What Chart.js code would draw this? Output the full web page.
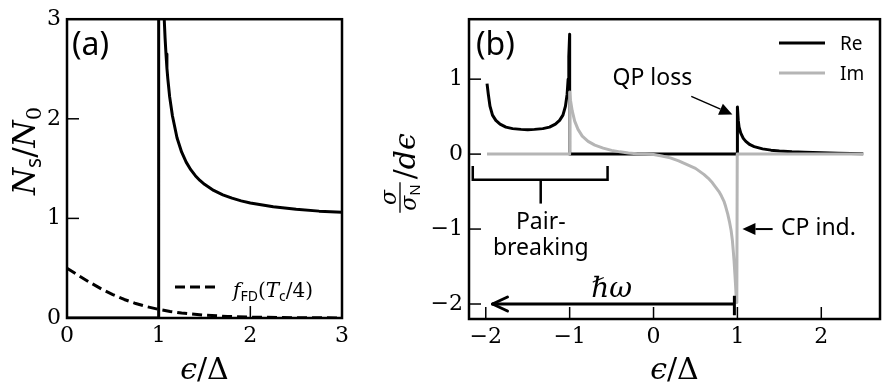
<!DOCTYPE html>
<html>
<head>
<meta charset="utf-8">
<script src="https://cdn.jsdelivr.net/npm/chart.js@4.4.1/dist/chart.umd.min.js"></script>
<style>
  html, body { margin: 0; padding: 0; background: #fff; }
  #wrap { position: relative; width: 882px; height: 385px; }
  canvas { position: absolute; top: 0; }
  #panelA { left: 0; }
  #panelB { left: 360px; }
</style>
</head>
<body>
<div id="wrap">
  <canvas id="panelA" width="360" height="385"></canvas>
  <canvas id="panelB" width="522" height="385"></canvas>
</div>
<script>
// (a) superconducting density of states and Fermi function at Tc/4
const epsDos = [0, 1, 1, 1.005, 1.02, 1.04, 1.0607, 1.07, 1.08, 1.09, 1.1, 1.12, 1.15, 1.2, 1.25, 1.3, 1.35, 1.4, 1.45, 1.5, 1.6, 1.7, 1.8, 1.9, 2.0, 2.25, 2.5, 2.75, 3.0];
const dos = [0, 0, 12, 10.0, 5.07, 3.64, 3.0, 2.81, 2.65, 2.51, 2.40, 2.22, 2.03, 1.81, 1.667, 1.565, 1.489, 1.429, 1.381, 1.342, 1.281, 1.237, 1.203, 1.176, 1.155, 1.116, 1.091, 1.073, 1.061];
const epsFermi = [0, 0.125, 0.25, 0.375, 0.5, 0.625, 0.75, 0.875, 1.0, 1.125, 1.25, 1.5, 1.75, 2.0, 2.5, 3.0];
const fermi = [0.5, 0.427, 0.357, 0.292, 0.235, 0.186, 0.145, 0.113, 0.086, 0.066, 0.05, 0.028, 0.016, 0.009, 0.003, 0.001];

// (b) conductivity integrand, real and imaginary parts
const epsRe = [-1.985, -1.97, -1.95, -1.92, -1.88, -1.83, -1.76, -1.68, -1.58, -1.5, -1.42, -1.32, -1.24, -1.17, -1.12, -1.08, -1.05, -1.03, -1.018, -1.01, -1.0, -1.0,
  1.0, 1.0, 1.01, 1.02, 1.04, 1.07, 1.1, 1.15, 1.2, 1.3, 1.4, 1.5, 1.65, 1.8, 2.0, 2.2, 2.5];
const re = [0.94, 0.80, 0.64, 0.52, 0.45, 0.40, 0.36, 0.34, 0.33, 0.325, 0.33, 0.34, 0.36, 0.40, 0.45, 0.52, 0.64, 0.80, 1.0, 1.3, 1.6, 0,
  0, 0.63, 0.45, 0.36, 0.28, 0.21, 0.17, 0.125, 0.10, 0.07, 0.053, 0.043, 0.032, 0.025, 0.017, 0.011, 0.005];
const epsIm = [-1.985, -1.0, -1.0, -0.99, -0.97, -0.94, -0.9, -0.85, -0.78, -0.7, -0.6, -0.5, -0.4, -0.3, -0.2, -0.1, 0, 0.1, 0.2, 0.3, 0.4, 0.5, 0.6, 0.65, 0.7,
  0.74, 0.78, 0.81, 0.84, 0.86, 0.885, 0.905, 0.925, 0.94, 0.95, 0.96, 0.97, 0.978, 0.985, 0.993, 0.998, 2.5];
const im = [0, 0, 0.83, 0.72, 0.58, 0.44, 0.33, 0.24, 0.17, 0.12, 0.08, 0.05, 0.03, 0.015, 0.006, 0, -0.005, -0.025, -0.05, -0.09, -0.14, -0.19, -0.27, -0.32, -0.38,
  -0.44, -0.5, -0.56, -0.63, -0.7, -0.8, -0.9, -1.02, -1.15, -1.28, -1.42, -1.6, -1.75, -1.9, -1.98, 0, 0];

const ticksAx = [0, 1, 2, 3];
const ticksAy = [0, 1, 2, 3];
const ticksBx = [-2, -1, 0, 1, 2];
const ticksBy = [-2, -1, 0, 1];

const SERIF = '"DejaVu Serif", serif';
const SANS = '"Noto Sans", sans-serif';
const GRAY = '#b5b5b5';

const fmt = v => (v < 0 ? '\u2212' + Math.abs(v) : String(v));

function series(xs, ys, color, dash, order) {
  return {
    data: xs.map((x, i) => ({ x, y: ys[i] })),
    borderColor: color,
    borderWidth: 3,
    borderDash: dash || [],
    borderJoinStyle: 'round',
    pointRadius: 0,
    tension: 0,
    fill: false,
    order
  };
}

function axis(min, max, ticks, fitSize, horizontal) {
  return {
    type: 'linear',
    min, max,
    afterBuildTicks: s => { s.ticks = ticks.map(v => ({ value: v })); },
    afterFit: s => { if (horizontal) s.height = fitSize; else s.width = fitSize; },
    grid: { display: false, drawTicks: false },
    border: { display: false },
    ticks: {
      color: '#000',
      font: { family: SERIF, size: 22 },
      padding: horizontal ? 5 : 6,
      maxRotation: 0,
      autoSkip: false,
      callback: v => fmt(v)
    }
  };
}

// draw a run of differently styled pieces of text one after another
function rich(ctx, x, y, runs, align) {
  let w = 0;
  runs.forEach(r => { ctx.font = r[1]; w += ctx.measureText(r[0]).width; });
  let cx = align === 'center' ? x - w / 2 : (align === 'right' ? x - w : x);
  ctx.textAlign = 'left';
  ctx.textBaseline = 'alphabetic';
  runs.forEach(r => {
    ctx.font = r[1];
    ctx.fillText(r[0], cx, y + (r[2] || 0));
    cx += ctx.measureText(r[0]).width;
  });
  return w;
}

function seg(ctx, x1, y1, x2, y2) {
  ctx.beginPath(); ctx.moveTo(x1, y1); ctx.lineTo(x2, y2); ctx.stroke();
}

function frameAndTicks(chart, xt, yt) {
  const { ctx, chartArea: ca, scales: { x, y } } = chart;
  ctx.strokeStyle = '#000';
  ctx.lineWidth = 1.5;
  xt.forEach(v => { const px = x.getPixelForValue(v); seg(ctx, px, ca.bottom, px, ca.bottom - 12); });
  yt.forEach(v => { const py = y.getPixelForValue(v); seg(ctx, ca.left, py, ca.left + 12, py); });
  ctx.lineWidth = 2.5;
  ctx.strokeRect(ca.left, ca.top, ca.right - ca.left, ca.bottom - ca.top);
}

function filledArrow(ctx, x1, y1, x2, y2, lw) {
  const a = Math.atan2(y2 - y1, x2 - x1);
  const len = 13, half = 6;
  const bx = x2 - len * Math.cos(a), by = y2 - len * Math.sin(a);
  ctx.lineWidth = lw;
  seg(ctx, x1, y1, bx, by);
  ctx.beginPath();
  ctx.moveTo(x2, y2);
  ctx.lineTo(bx - half * Math.sin(a), by + half * Math.cos(a));
  ctx.lineTo(bx + half * Math.sin(a), by - half * Math.cos(a));
  ctx.closePath();
  ctx.fill();
}

function epsOverDelta(ctx, cx) {
  rich(ctx, cx, 379, [
    ['\u03f5', 'italic 30px ' + SERIF],
    ['/', '30px ' + SERIF],
    ['\u0394', '30px ' + SERIF]
  ], 'center');
}

const decorA = {
  id: 'decorA',
  afterDraw(chart) {
    const { ctx, chartArea: ca } = chart;
    ctx.save();
    frameAndTicks(chart, ticksAx, ticksAy);
    ctx.fillStyle = '#000';

    // panel tag
    ctx.font = '32px ' + SANS;
    ctx.fillText('(a)', 72, 55);

    // legend entry for the dashed curve
    ctx.setLineDash([10, 5]);
    ctx.lineWidth = 3;
    seg(ctx, 175, 287, 219, 287);
    ctx.setLineDash([]);
    rich(ctx, 233, 297, [
      ['f', 'italic 20px ' + SERIF],
      ['FD', '14px ' + SANS, 4],
      ['(', '20px ' + SERIF],
      ['T', 'italic 20px ' + SERIF],
      ['c', '14px ' + SANS, 4],
      ['/4)', '20px ' + SERIF]
    ]);

    // axis labels
    epsOverDelta(ctx, (ca.left + ca.right) / 2);
    ctx.save();
    ctx.translate(35, 151);
    ctx.rotate(-Math.PI / 2);
    rich(ctx, 0, 0, [
      ['N', 'italic 31px ' + SERIF],
      ['s', '21px ' + SANS, 6],
      ['/', '31px ' + SERIF],
      ['N', 'italic 31px ' + SERIF],
      ['0', '21px ' + SERIF, 6]
    ], 'center');
    ctx.restore();
    ctx.restore();
  }
};

const decorB = {
  id: 'decorB',
  afterDraw(chart) {
    const { ctx, chartArea: ca, scales: { x, y } } = chart;
    ctx.save();
    frameAndTicks(chart, ticksBx, ticksBy);
    ctx.fillStyle = '#000';
    ctx.strokeStyle = '#000';

    ctx.font = '32px ' + SANS;
    ctx.fillText('(b)', 116, 55);

    // legend
    ctx.lineWidth = 3;
    seg(ctx, 419, 43, 465, 43);
    ctx.strokeStyle = GRAY;
    seg(ctx, 419, 73, 465, 73);
    ctx.strokeStyle = '#000';
    ctx.font = '19px ' + SANS;
    ctx.fillText('Re', 480, 50);
    ctx.fillText('Im', 480, 80);

    // pair-breaking bracket
    const bl = x.getPixelForValue(-2.155), br = x.getPixelForValue(-0.548);
    const by = y.getPixelForValue(-0.343), bt = y.getPixelForValue(-0.158);
    const bm = x.getPixelForValue(-1.345), bs = y.getPixelForValue(-0.66);
    ctx.lineWidth = 2.5;
    ctx.lineJoin = 'miter';
    ctx.beginPath();
    ctx.moveTo(bl, bt); ctx.lineTo(bl, by); ctx.lineTo(br, by); ctx.lineTo(br, bt);
    ctx.stroke();
    seg(ctx, bm, by, bm, bs);
    ctx.font = '23px ' + SANS;
    ctx.textAlign = 'center';
    ctx.fillText('Pair-', bm, y.getPixelForValue(-1.0));
    ctx.fillText('breaking', bm, y.getPixelForValue(-1.34));
    ctx.textAlign = 'left';

    // QP loss
    ctx.font = '23px ' + SANS;
    ctx.fillText('QP loss', x.getPixelForValue(-0.49), y.getPixelForValue(0.92));
    filledArrow(ctx, x.getPixelForValue(0.45), y.getPixelForValue(0.77),
      x.getPixelForValue(0.94), y.getPixelForValue(0.53), 1.5);

    // CP induced
    ctx.fillText('CP ind.', x.getPixelForValue(1.52), y.getPixelForValue(-1.08));
    filledArrow(ctx, x.getPixelForValue(1.42), y.getPixelForValue(-1.0),
      x.getPixelForValue(1.06), y.getPixelForValue(-1.0), 2);

    // photon energy arrow
    const hy = y.getPixelForValue(-2.0);
    const hr = x.getPixelForValue(0.964), hl = x.getPixelForValue(-1.92);
    ctx.lineWidth = 3;
    seg(ctx, hr, hy, hl, hy);
    seg(ctx, hr, y.getPixelForValue(-1.89), hr, y.getPixelForValue(-2.15));
    ctx.lineCap = 'round';
    seg(ctx, hl, hy, hl + 15, hy - 7);
    seg(ctx, hl, hy, hl + 15, hy + 7);
    ctx.lineCap = 'butt';
    rich(ctx, x.getPixelForValue(-0.5), y.getPixelForValue(-1.91), [
      ['\u210f', 'italic 28px ' + SERIF],
      ['\u03c9', 'italic 28px ' + SERIF]
    ], 'center');

    // axis labels
    epsOverDelta(ctx, (ca.left + ca.right) / 2);

    ctx.save();
    ctx.translate(55, 173);
    ctx.rotate(-Math.PI / 2);
    ctx.font = 'italic 22px ' + SERIF;
    const sw = ctx.measureText('\u03c3').width;
    ctx.font = '15px ' + SANS;
    const nw = ctx.measureText('N').width;
    const barW = sw + nw + 4;
    ctx.font = '30px ' + SERIF;
    const slw = ctx.measureText('/').width;
    ctx.font = 'italic 30px ' + SERIF;
    const dw = ctx.measureText('d\u03f5').width;
    const total = barW + 3 + slw + dw;
    const x0 = -total / 2;
    rich(ctx, x0 + barW / 2, -19, [['\u03c3', 'italic 22px ' + SERIF]], 'center');
    ctx.lineWidth = 1.3;
    seg(ctx, x0, -15, x0 + barW, -15);
    rich(ctx, x0 + barW / 2, 1, [['\u03c3', 'italic 22px ' + SERIF], ['N', '15px ' + SANS, 4]], 'center');
    rich(ctx, x0 + barW + 3, 0, [
      ['/', '30px ' + SERIF],
      ['d\u03f5', 'italic 30px ' + SERIF]
    ]);
    ctx.restore();
    ctx.restore();
  }
};

const common = {
  responsive: false,
  animation: false,
  events: [],
  plugins: { legend: { display: false }, tooltip: { enabled: false } }
};

new Chart(document.getElementById('panelA'), {
  type: 'line',
  data: {
    datasets: [
      series(epsDos, dos, '#000', null, 1),
      series(epsFermi, fermi, '#000', [10, 5], 0)
    ]
  },
  options: Object.assign({}, common, {
    layout: { padding: { top: 16, right: 18, left: 0, bottom: 0 } },
    scales: {
      x: axis(0, 3, ticksAx, 67, true),
      y: axis(0, 3, ticksAy, 67, false)
    }
  }),
  plugins: [decorA]
});

new Chart(document.getElementById('panelB'), {
  type: 'line',
  data: {
    datasets: [
      series(epsRe, re, '#000', null, 1),
      series(epsIm, im, GRAY, null, 0)
    ]
  },
  options: Object.assign({}, common, {
    layout: { padding: { top: 16, right: 2, left: 0, bottom: 0 } },
    scales: {
      x: axis(-2.2, 2.7, ticksBx, 66, true),
      y: axis(-2.2, 1.8, ticksBy, 109, false)
    }
  }),
  plugins: [decorB]
});
</script>
</body>
</html>
